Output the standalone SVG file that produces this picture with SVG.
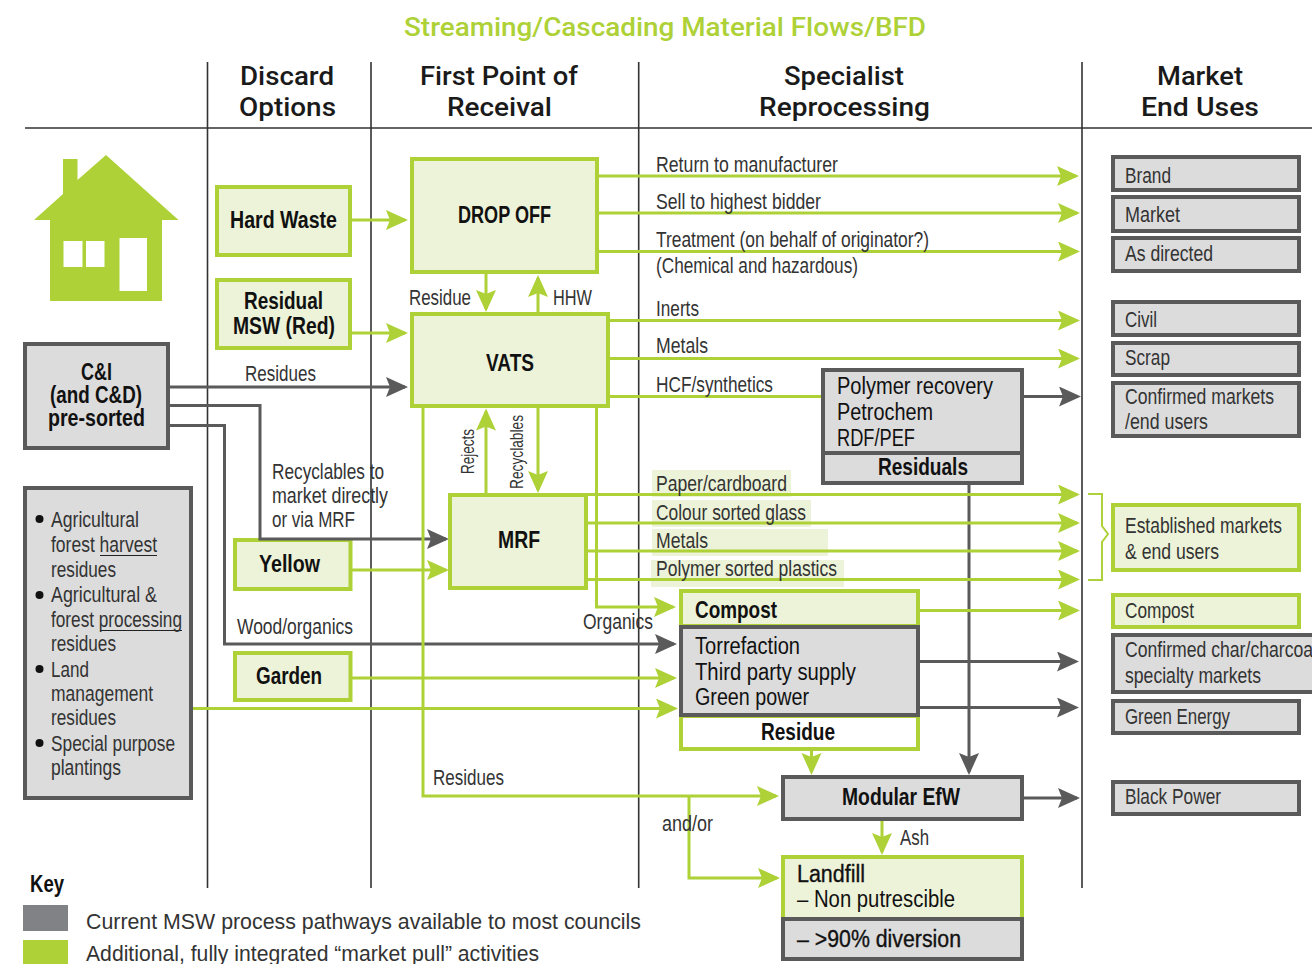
<svg xmlns="http://www.w3.org/2000/svg" width="1312" height="964" viewBox="0 0 1312 964">
<style>
text{font-family:"Liberation Sans",Arial,sans-serif}
.t{font-size:26px;fill:#add136;font-family:"Roboto","Liberation Sans",sans-serif;font-weight:500}
.h{font-size:26px;fill:#1a1a1a;font-family:"Roboto","Liberation Sans",sans-serif;font-weight:500}
.l{font-size:22.5px;fill:#333}
.s{font-size:19px;fill:#333}
.d{font-size:23.5px;fill:#111}
.m{font-size:23.5px;fill:#111;stroke:#111;stroke-width:.35}
.n{font-size:24px;font-weight:bold;fill:#111}
.k{font-size:22px;fill:#333}
.gb{fill:#edf3d8;stroke:#add136;stroke-width:4}
.wb{fill:#fff;stroke:#add136;stroke-width:4}
.yb{fill:#dcdcdc;stroke:#5a5a5a;stroke-width:4}
.gl{fill:none;stroke:#add136;stroke-width:3;marker-end:url(#ag)}
.gp{fill:none;stroke:#add136;stroke-width:3}
.yl{fill:none;stroke:#5a5a5a;stroke-width:3;marker-end:url(#ay)}
.v{stroke:#333;stroke-width:1.6;fill:none}
.hl{fill:#edf3d8}
.u{stroke:#222;stroke-width:1.2}
</style>
<defs>
<marker id="ag" markerUnits="userSpaceOnUse" markerWidth="24" markerHeight="22" refX="19" refY="10" orient="auto"><path d="M0 0L22 10L0 20L4 10Z" fill="#add136"/></marker>
<marker id="ay" markerUnits="userSpaceOnUse" markerWidth="24" markerHeight="22" refX="19" refY="10" orient="auto"><path d="M0 0L22 10L0 20L4 10Z" fill="#5a5a5a"/></marker>
</defs>
<rect width="1312" height="964" fill="#fff"/>
<g id="title"><text class="t" x="404" y="36" textLength="522" lengthAdjust="spacingAndGlyphs">Streaming/Cascading Material Flows/BFD</text></g>
<g id="grid">
<path class="v" d="M207.5 62V888M371 62V888M638.7 62V888M1082 62V888M25 128H1312"/>
</g>
<g id="headers">
<text class="h" x="240" y="85" textLength="94" lengthAdjust="spacingAndGlyphs">Discard</text>
<text class="h" x="239" y="116" textLength="97" lengthAdjust="spacingAndGlyphs">Options</text>
<text class="h" x="420" y="85" textLength="158" lengthAdjust="spacingAndGlyphs">First Point of</text>
<text class="h" x="447" y="116" textLength="105" lengthAdjust="spacingAndGlyphs">Receival</text>
<text class="h" x="784" y="85" textLength="120" lengthAdjust="spacingAndGlyphs">Specialist</text>
<text class="h" x="759" y="116" textLength="171" lengthAdjust="spacingAndGlyphs">Reprocessing</text>
<text class="h" x="1157" y="85" textLength="86" lengthAdjust="spacingAndGlyphs">Market</text>
<text class="h" x="1141" y="116" textLength="118" lengthAdjust="spacingAndGlyphs">End Uses</text>
</g>
<g id="highlights">
<rect class="hl" x="652" y="470" width="139" height="27"/>
<rect class="hl" x="652" y="500" width="159" height="27"/>
<rect class="hl" x="652" y="529" width="176" height="27"/>
<rect class="hl" x="651" y="560" width="193" height="27"/>
</g>
<g id="yellow"><rect class="gb" x="235" y="540" width="115.500" height="49"/><text class="n" x="259" y="572" textLength="61" lengthAdjust="spacingAndGlyphs">Yellow</text></g>
<g id="connectors">
<path class="yl" d="M969 485V772"/>
<path class="yl" d="M170 387H405"/>
<path class="yl" d="M170 405.5H260V539H446"/>
<path class="yl" d="M170 425.5H224.5V644H674"/>
<path class="yl" d="M1024 396.5H1078"/>
<path class="yl" d="M920 661.5H1076"/>
<path class="yl" d="M920 707.5H1076"/>
<path class="yl" d="M1024 798H1077"/>
<path class="gl" d="M352 220H405"/>
<path class="gl" d="M352 333H405"/>
<path class="gl" d="M599 176H1076"/>
<path class="gl" d="M599 213H1077"/>
<path class="gl" d="M599 251.5H1077"/>
<path class="gl" d="M610 320.5H1077"/>
<path class="gl" d="M610 358.5H1077"/>
<path class="gp" d="M610 396.5H822"/>
<path class="gl" d="M588 494.5H1077"/>
<path class="gl" d="M588 523H1077"/>
<path class="gl" d="M588 551H1077"/>
<path class="gl" d="M588 579.5H1077"/>
<path class="gl" d="M920 610.5H1077"/>
<path class="gl" d="M486 274V309"/>
<path class="gl" d="M538 312V278"/>
<path class="gl" d="M486 493V411.5"/>
<path class="gl" d="M538 408V490"/>
<path class="gl" d="M352 570H446"/>
<path class="gl" d="M352 678H674"/>
<path class="gl" d="M193 708.5H675"/>
<path class="gl" d="M596.5 408V607H673"/>
<path class="gl" d="M423 408V796H776"/>
<path class="gl" d="M689 796V878H777"/>
<path class="gl" d="M811.5 751V772"/>
<path class="gl" d="M882 821V852"/>
<path fill="none" stroke="#add136" stroke-width="2" d="M1088 494H1102V526L1108 534L1102 542V580H1088"/>
</g>
<g id="labels">
<text class="l" x="245" y="381" textLength="71" lengthAdjust="spacingAndGlyphs">Residues</text>
<text class="l" x="272" y="479" textLength="112" lengthAdjust="spacingAndGlyphs">Recyclables to</text>
<text class="l" x="272" y="503" textLength="116" lengthAdjust="spacingAndGlyphs">market directly</text>
<text class="l" x="272" y="527" textLength="83" lengthAdjust="spacingAndGlyphs">or via MRF</text>
<text class="l" x="237" y="634" textLength="116" lengthAdjust="spacingAndGlyphs">Wood/organics</text>
<text class="l" x="409" y="305" textLength="62" lengthAdjust="spacingAndGlyphs">Residue</text>
<text class="l" x="553" y="305" textLength="39" lengthAdjust="spacingAndGlyphs">HHW</text>
<text class="s" transform="translate(474 474) rotate(-90)" textLength="45" lengthAdjust="spacingAndGlyphs">Rejects</text>
<text class="s" transform="translate(523 489) rotate(-90)" textLength="74" lengthAdjust="spacingAndGlyphs">Recyclables</text>
<text class="l" x="656" y="172" textLength="182" lengthAdjust="spacingAndGlyphs">Return to manufacturer</text>
<text class="l" x="656" y="209" textLength="165" lengthAdjust="spacingAndGlyphs">Sell to highest bidder</text>
<text class="l" x="656" y="247" textLength="273" lengthAdjust="spacingAndGlyphs">Treatment (on behalf of originator?)</text>
<text class="l" x="656" y="273" textLength="202" lengthAdjust="spacingAndGlyphs">(Chemical and hazardous)</text>
<text class="l" x="656" y="316" textLength="43" lengthAdjust="spacingAndGlyphs">Inerts</text>
<text class="l" x="656" y="353" textLength="52" lengthAdjust="spacingAndGlyphs">Metals</text>
<text class="l" x="656" y="392" textLength="117" lengthAdjust="spacingAndGlyphs">HCF/synthetics</text>
<text class="l" x="656" y="491" textLength="131" lengthAdjust="spacingAndGlyphs">Paper/cardboard</text>
<text class="l" x="656" y="520" textLength="150" lengthAdjust="spacingAndGlyphs">Colour sorted glass</text>
<text class="l" x="656" y="548" textLength="52" lengthAdjust="spacingAndGlyphs">Metals</text>
<text class="l" x="656" y="576" textLength="181" lengthAdjust="spacingAndGlyphs">Polymer sorted plastics</text>
<text class="l" x="583" y="629" textLength="70" lengthAdjust="spacingAndGlyphs">Organics</text>
<text class="l" x="433" y="785" textLength="71" lengthAdjust="spacingAndGlyphs">Residues</text>
<text class="l" x="662" y="831" textLength="51" lengthAdjust="spacingAndGlyphs">and/or</text>
<text class="l" x="900" y="845" textLength="29" lengthAdjust="spacingAndGlyphs">Ash</text>
</g>
<g id="house" fill="#add136">
<path d="M63 159H77.5V180L106 155L178.500 220H162V301H50V220H34L63 194Z"/>
<path fill="#fff" d="M63.5 241H82.5V267H63.5ZM86 241H104.5V267H86ZM119.5 238H147V291H119.5Z"/>
</g>
<g id="hard-waste"><rect class="gb" x="217" y="187" width="133" height="68"/><text class="n" x="230" y="228" textLength="107" lengthAdjust="spacingAndGlyphs">Hard Waste</text></g>
<g id="residual-msw"><rect class="gb" x="217" y="280" width="133" height="68"/><text class="n" x="244" y="309" textLength="79" lengthAdjust="spacingAndGlyphs">Residual</text><text class="n" x="233" y="334" textLength="102" lengthAdjust="spacingAndGlyphs">MSW (Red)</text></g>
<g id="ci"><rect class="yb" x="25" y="344" width="143" height="104"/><text class="n" x="81" y="380" textLength="31" lengthAdjust="spacingAndGlyphs">C&amp;I</text><text class="n" x="50" y="403" textLength="92" lengthAdjust="spacingAndGlyphs">(and C&amp;D)</text><text class="n" x="48" y="426" textLength="97" lengthAdjust="spacingAndGlyphs">pre-sorted</text></g>
<g id="agri"><rect class="yb" x="25" y="488" width="166" height="310"/>
<circle cx="39.500" cy="519" r="4" fill="#111"/><circle cx="39.500" cy="595" r="4" fill="#111"/><circle cx="39.500" cy="669" r="4" fill="#111"/><circle cx="39.500" cy="743" r="4" fill="#111"/>
<path class="u" d="M100 555.500H157M100 630.500H182"/>
<text class="l" x="51" y="527" textLength="88" lengthAdjust="spacingAndGlyphs">Agricultural</text>
<text class="l" x="51" y="552" textLength="106" lengthAdjust="spacingAndGlyphs">forest harvest</text>
<text class="l" x="51" y="577" textLength="65" lengthAdjust="spacingAndGlyphs">residues</text>
<text class="l" x="51" y="602" textLength="106" lengthAdjust="spacingAndGlyphs">Agricultural &amp;</text>
<text class="l" x="51" y="627" textLength="131" lengthAdjust="spacingAndGlyphs">forest processing</text>
<text class="l" x="51" y="651" textLength="65" lengthAdjust="spacingAndGlyphs">residues</text>
<text class="l" x="51" y="677" textLength="38" lengthAdjust="spacingAndGlyphs">Land</text>
<text class="l" x="51" y="701" textLength="102" lengthAdjust="spacingAndGlyphs">management</text>
<text class="l" x="51" y="725" textLength="65" lengthAdjust="spacingAndGlyphs">residues</text>
<text class="l" x="51" y="751" textLength="124" lengthAdjust="spacingAndGlyphs">Special purpose</text>
<text class="l" x="51" y="775" textLength="70" lengthAdjust="spacingAndGlyphs">plantings</text></g>
<g id="garden"><rect class="gb" x="235" y="653" width="115.500" height="47"/><text class="n" x="256" y="684" textLength="66" lengthAdjust="spacingAndGlyphs">Garden</text></g>
<g id="drop-off"><rect class="gb" x="412" y="159" width="185" height="113"/><text class="n" x="458" y="223" textLength="93" lengthAdjust="spacingAndGlyphs">DROP OFF</text></g>
<g id="vats"><rect class="gb" x="412" y="314" width="196" height="92"/><text class="n" x="486" y="371" textLength="48" lengthAdjust="spacingAndGlyphs">VATS</text></g>
<g id="mrf"><rect class="gb" x="450" y="495" width="136" height="93"/><text class="n" x="498" y="548" textLength="42" lengthAdjust="spacingAndGlyphs">MRF</text></g>
<g id="polymer"><rect class="yb" x="823" y="370" width="199" height="83"/><text class="d" x="837" y="394" textLength="156" lengthAdjust="spacingAndGlyphs">Polymer recovery</text><text class="d" x="837" y="420" textLength="96" lengthAdjust="spacingAndGlyphs">Petrochem</text><text class="d" x="837" y="446" textLength="78" lengthAdjust="spacingAndGlyphs">RDF/PEF</text></g>
<g id="residuals"><rect class="yb" x="823" y="453" width="199" height="30"/><text class="n" x="878" y="475" textLength="90" lengthAdjust="spacingAndGlyphs">Residuals</text></g>
<g id="compost-process"><rect class="gb" x="681" y="591" width="237" height="35"/><text class="n" x="695" y="618" textLength="82" lengthAdjust="spacingAndGlyphs">Compost</text></g>
<g id="residue"><rect class="wb" x="681" y="716" width="237" height="33"/><text class="n" x="761" y="740" textLength="74" lengthAdjust="spacingAndGlyphs">Residue</text></g>
<g id="torrefaction"><rect class="yb" x="681" y="627" width="237" height="88"/><text class="d" x="695" y="654" textLength="105" lengthAdjust="spacingAndGlyphs">Torrefaction</text><text class="d" x="695" y="680" textLength="161" lengthAdjust="spacingAndGlyphs">Third party supply</text><text class="d" x="695" y="705" textLength="114" lengthAdjust="spacingAndGlyphs">Green power</text></g>
<g id="efw"><rect class="yb" x="783" y="777" width="239" height="42"/><text class="n" x="842" y="805" textLength="118" lengthAdjust="spacingAndGlyphs">Modular EfW</text></g>
<g id="landfill"><rect class="gb" x="783" y="857" width="239" height="62"/><text class="m" x="797" y="882" textLength="68" lengthAdjust="spacingAndGlyphs">Landfill</text><text class="d" x="797" y="907" textLength="158" lengthAdjust="spacingAndGlyphs">– Non putrescible</text></g>
<g id="diversion"><rect class="yb" x="783" y="919" width="239" height="40"/><text class="m" x="797" y="947" textLength="164" lengthAdjust="spacingAndGlyphs">– &gt;90% diversion</text></g>
<g id="brand"><rect class="yb" x="1113" y="157" width="186" height="33"/><text class="l" x="1125" y="183" textLength="46" lengthAdjust="spacingAndGlyphs">Brand</text></g>
<g id="market"><rect class="yb" x="1113" y="197" width="186" height="34"/><text class="l" x="1125" y="222" textLength="55" lengthAdjust="spacingAndGlyphs">Market</text></g>
<g id="as-directed"><rect class="yb" x="1113" y="238" width="186" height="33"/><text class="l" x="1125" y="261" textLength="88" lengthAdjust="spacingAndGlyphs">As directed</text></g>
<g id="civil"><rect class="yb" x="1113" y="302" width="186" height="33"/><text class="l" x="1125" y="327" textLength="32" lengthAdjust="spacingAndGlyphs">Civil</text></g>
<g id="scrap"><rect class="yb" x="1113" y="343" width="186" height="32"/><text class="l" x="1125" y="365" textLength="45" lengthAdjust="spacingAndGlyphs">Scrap</text></g>
<g id="confirmed-markets"><rect class="yb" x="1113" y="383" width="186" height="53"/><text class="l" x="1125" y="404" textLength="149" lengthAdjust="spacingAndGlyphs">Confirmed markets</text><text class="l" x="1125" y="429" textLength="83" lengthAdjust="spacingAndGlyphs">/end users</text></g>
<g id="established"><rect class="gb" x="1113" y="505" width="186" height="65"/><text class="l" x="1125" y="533" textLength="157" lengthAdjust="spacingAndGlyphs">Established markets</text><text class="l" x="1125" y="559" textLength="94" lengthAdjust="spacingAndGlyphs">&amp; end users</text></g>
<g id="compost-market"><rect class="gb" x="1113" y="595" width="186" height="32"/><text class="l" x="1125" y="618" textLength="69" lengthAdjust="spacingAndGlyphs">Compost</text></g>
<g id="char-market"><rect class="yb" x="1113" y="635" width="210" height="57"/><text class="l" x="1125" y="657" textLength="192" lengthAdjust="spacingAndGlyphs">Confirmed char/charcoal</text><text class="l" x="1125" y="683" textLength="136" lengthAdjust="spacingAndGlyphs">specialty markets</text></g>
<g id="green-energy"><rect class="yb" x="1113" y="701" width="186" height="32"/><text class="l" x="1125" y="724" textLength="105" lengthAdjust="spacingAndGlyphs">Green Energy</text></g>
<g id="black-power"><rect class="yb" x="1113" y="782" width="186" height="32"/><text class="l" x="1125" y="804" textLength="96" lengthAdjust="spacingAndGlyphs">Black Power</text></g>
<g id="key">
<text class="n" x="30" y="892" textLength="34" lengthAdjust="spacingAndGlyphs">Key</text>
<rect x="23" y="905" width="45" height="26" fill="#808285"/>
<rect x="23" y="940" width="45" height="24" fill="#add136"/>
<text class="k" x="86" y="929" textLength="555" lengthAdjust="spacingAndGlyphs">Current MSW process pathways available to most councils</text>
<text class="k" x="86" y="961" textLength="453" lengthAdjust="spacingAndGlyphs">Additional, fully integrated “market pull” activities</text>
</g>
</svg>
